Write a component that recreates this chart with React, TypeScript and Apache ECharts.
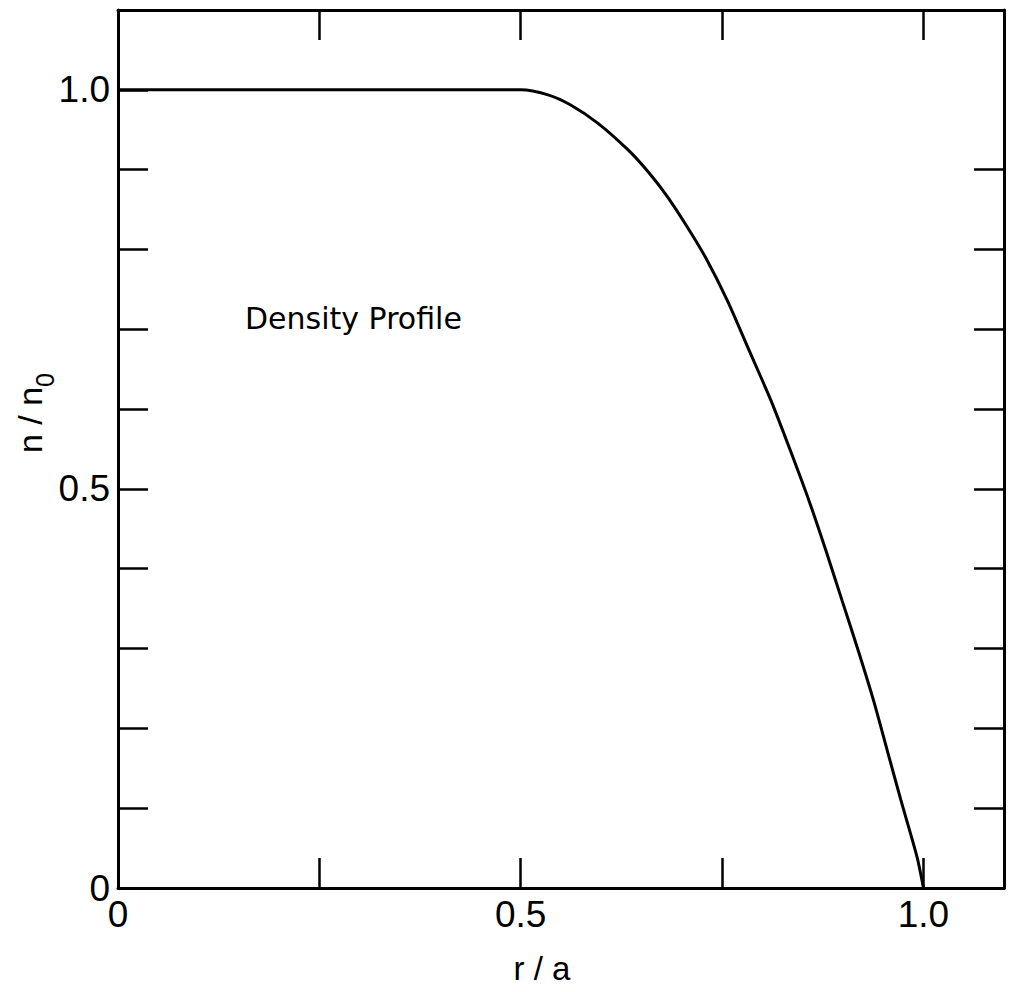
import React, { useEffect, useRef } from "react";
import * as echarts from "echarts";

// r/a values
const rValues = [0, 0.5, 0.533, 0.562, 0.596, 0.633, 0.655, 0.68, 0.705, 0.73, 0.757, 0.784, 0.811, 0.835, 0.858, 0.879, 0.899, 0.919, 0.938, 0.955, 0.972, 0.992, 1.0];
// n/n0 values
const nValues = [1.0, 1.0, 0.994, 0.981, 0.958, 0.925, 0.901, 0.869, 0.831, 0.789, 0.735, 0.6725, 0.61, 0.5475, 0.485, 0.4225, 0.36, 0.2975, 0.235, 0.1725, 0.11, 0.039, 0];

const xTickLabels: Record<string, string> = { "0": "0", "0.5": "0.5", "1": "1.0" };
const yTickLabels: Record<string, string> = { "0": "0", "0.5": "0.5", "1": "1.0" };
const rightTicks = [0.1, 0.2, 0.3, 0.4, 0.5, 0.6, 0.7, 0.8, 0.9];

const titleText = "Density Profile";
const xName = "r / a";

const FONT = "'Liberation Sans', Arial, sans-serif";

function fmt(map: Record<string, string>) {
  return (v: number) => {
    const key = String(Math.round(v * 1000) / 1000);
    return map[key] ?? "";
  };
}

export default function App() {
  const ref = useRef<HTMLDivElement>(null);
  useEffect(() => {
    if (!ref.current) return;
    const chart = echarts.init(ref.current, null, { renderer: "svg" });
    const axisLine = { show: true, onZero: false, lineStyle: { color: "#000", width: 3 } };
    const tick = { show: true, inside: true, length: 30, lineStyle: { color: "#000", width: 2.5 } };
    chart.setOption({
      animation: false,
      backgroundColor: "#fff",
      grid: { left: 118, right: 6, top: 10, bottom: 104, containLabel: false },
      xAxis: [
        {
          type: "value", min: 0, max: 1.1, interval: 0.25, position: "bottom",
          axisLine, axisTick: tick, splitLine: { show: false },
          axisLabel: { formatter: fmt(xTickLabels), fontSize: 37, margin: 8, color: "#000", fontFamily: FONT },
        },
        {
          type: "value", min: 0, max: 1.1, interval: 0.25, position: "top",
          axisLine, axisTick: tick, splitLine: { show: false }, axisLabel: { show: false },
        },
      ],
      yAxis: [
        {
          type: "value", min: 0, max: 1.1, interval: 0.1, position: "left",
          axisLine, axisTick: tick, splitLine: { show: false },
          axisLabel: { formatter: fmt(yTickLabels), fontSize: 37, margin: 8, color: "#000", fontFamily: FONT },
        },
        {
          type: "value", min: 0, max: 1.1, interval: 0.1, position: "right",
          axisLine, axisTick: { ...tick, customValues: rightTicks }, splitLine: { show: false }, axisLabel: { show: false },
        },
      ],
      graphic: [
        {
          type: "text", left: 245, top: 303,
          style: { text: titleText, fontSize: 30, fontFamily: "'DejaVu Sans', sans-serif", fill: "#000" },
        },
        {
          type: "text", x: 542, y: 968,
          style: { text: xName, fontSize: 33, fontFamily: FONT, fill: "#000", align: "center", verticalAlign: "middle" },
        },
        {
          type: "text", x: 28, y: 413, rotation: Math.PI / 2,
          style: {
            text: "{m|n / n}{s|0}", align: "center", verticalAlign: "middle", fill: "#000",
            rich: {
              m: { fontSize: 34, fontFamily: FONT, fill: "#000", verticalAlign: "bottom", lineHeight: 38 },
              s: { fontSize: 25, fontFamily: FONT, fill: "#000", verticalAlign: "bottom", lineHeight: 38, padding: [0, 0, -10, 0] },
            },
          },
        },
      ],
      series: [
        {
          type: "line", xAxisIndex: 0, yAxisIndex: 0, showSymbol: false, smooth: 0.25,
          lineStyle: { color: "#000", width: 3 },
          data: rValues.map((r, i) => [r, nValues[i]]),
        },
      ],
    });
    return () => chart.dispose();
  }, []);
  return <div ref={ref} style={{ position: "fixed", left: 0, top: 0, width: 1010, height: 992, background: "#fff" }} />;
}
